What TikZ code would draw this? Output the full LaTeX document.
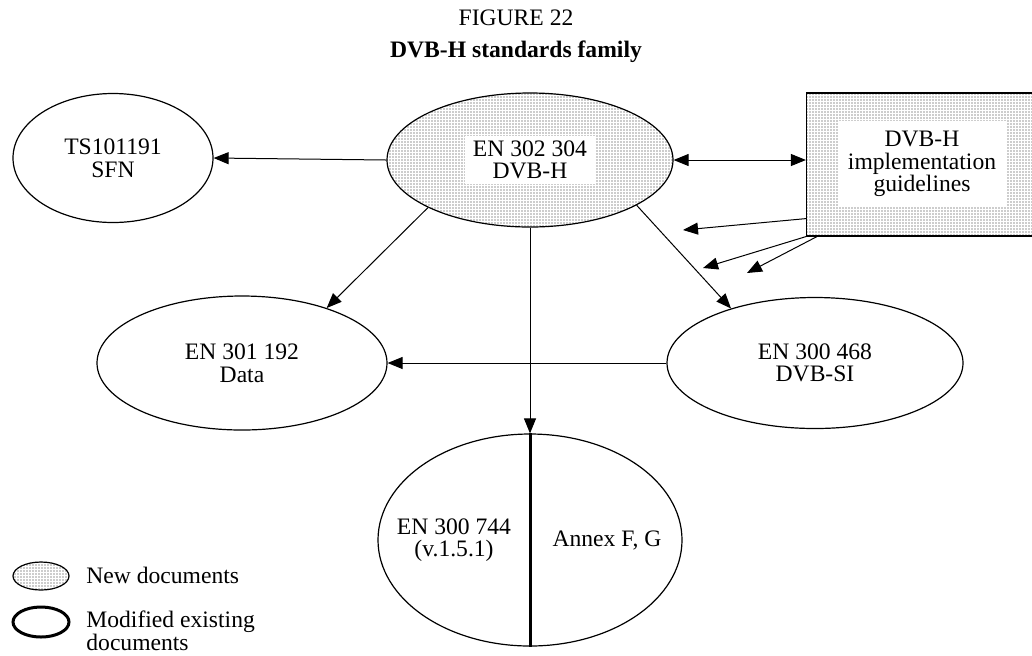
\documentclass[tikz,border=0pt]{standalone}
\usepackage{fontspec}
\setmainfont{Liberation Serif}
\usepackage{tikz}
\usetikzlibrary{arrows.meta,shapes.geometric,patterns.meta}

\begin{document}
\begin{tikzpicture}[x=0.5pt,y=-0.5pt,
        font=\fontsize{11.8}{11.3}\selectfont,
        doc/.style={ellipse,draw,line width=0.6pt,inner sep=0pt},
        dots/.style={pattern={Dots[distance=1.5pt,radius=0.36pt]},pattern color=black!85},
        newdoc/.style={doc,dots},
        whitebox/.style={fill=white,align=center,inner xsep=4pt,inner ysep=2.5pt},
        txt/.style={align=center,inner sep=0pt},
        arr/.style={-{Triangle[length=7.5pt,width=6pt]},line width=0.5pt},
        darr/.style={{Triangle[length=7.5pt,width=6pt]}-{Triangle[length=7.5pt,width=6pt]},line width=0.5pt}]
    \useasboundingbox (0,0) rectangle (1032,655);
    \node[txt] (fig) at (516,18) {FIGURE 22};
    \node[txt,font=\fontsize{11.8}{11.3}\selectfont\bfseries] (title) at (516,52) {DVB-H standards family};

    \node[newdoc,minimum width=143pt,minimum height=67pt] (dvbh) at (530,160) {};
    \node[whitebox] (dvbhtxt) at (dvbh.center) {EN 302 304\\DVB-H};
    \node[doc,minimum width=100pt,minimum height=64.5pt,align=center] (sfn) at (113,158) {TS101191\\SFN};
    \node[doc,minimum width=145pt,minimum height=67pt,align=center] (data) at (242,363) {EN 301 192\\Data};
    \node[doc,minimum width=148pt,minimum height=65.5pt,align=center] (si) at (815,363) {EN 300 468\\DVB-SI};
    \node[doc,minimum width=152pt,minimum height=106pt] (dvbt) at (530,540) {};
    \node[txt] (dvbtl) at (454,540) {EN 300 744\\(v.1.5.1)};
    \node[txt] (dvbtr) at (607,540) {Annex F, G};
    \node[draw,line width=0.6pt,rectangle,minimum width=117pt,minimum height=71.5pt,inner sep=0pt,dots] (guide) at (923.5,164.5) {};
    \node[whitebox,inner xsep=5pt,inner ysep=5pt] (guidetxt) at (922,164) {DVB-H\\implementation\\guidelines};

    \draw[line width=1.5pt] (dvbt.north) -- (dvbt.south);
    \draw[arr] (dvbh.west) -- (sfn.east);
    \draw[arr] (dvbh.205) -- (data.33);
    \draw[arr] (dvbh.337) -- (si.147);
    \draw[arr] (si.west) -- (data.east);
    \draw[arr] (dvbh.south) -- (dvbt.north);
    \draw[darr] (dvbh.east) -- (dvbh.east -| guide.west);

    \coordinate (g1) at (683,230);
    \coordinate (g2) at (703,268);
    \coordinate (g3) at (747,273);
    \draw[arr] ([yshift=9pt]guide.south west) -- (g1);
    \draw[arr] (guide.south west) -- (g2);
    \draw[arr] ([xshift=5.5pt]guide.south west) -- (g3);

    % legend
    \node[newdoc,minimum width=28pt,minimum height=14pt] (leg1) at (41,576) {};
    \node[doc,line width=1.5pt,minimum width=28pt,minimum height=15pt] (leg2) at (41,622) {};
    \node[txt,anchor=west] (leg1txt) at (86,575) {New documents};
    \node[txt,anchor=west,align=left] (leg2txt) at (86,631) {Modified existing\\documents};
\end{tikzpicture}
\end{document}
